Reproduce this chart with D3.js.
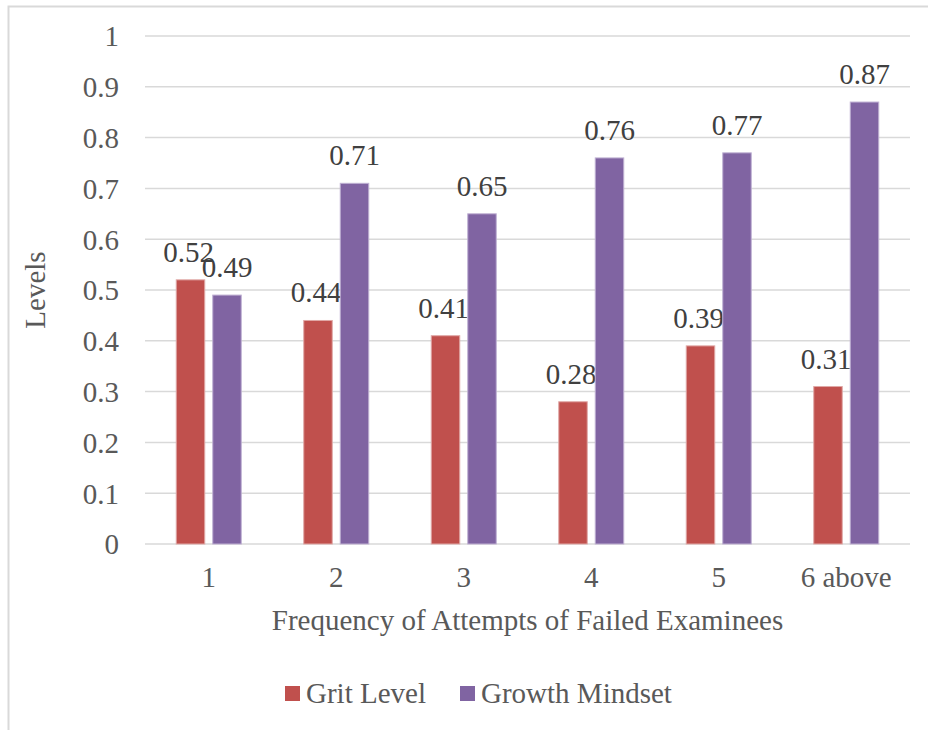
<!DOCTYPE html>
<html>
<head>
<meta charset="utf-8">
<script src="https://cdn.jsdelivr.net/npm/d3@7"></script>
</head>
<body style="margin:0;background:#fff">
<svg id="chart" width="928" height="730" style="display:block"></svg>
<script>
// Categories and series
const categories = ["1", "2", "3", "4", "5", "6 above"];
const gritLevel = [0.52, 0.44, 0.41, 0.28, 0.39, 0.31];
const growthMindset = [0.49, 0.71, 0.65, 0.76, 0.77, 0.87];
const yTicks = [0, 0.1, 0.2, 0.3, 0.4, 0.5, 0.6, 0.7, 0.8, 0.9, 1];
const seriesNames = ["Grit Level", "Growth Mindset"];
const seriesColors = ["#C0504D", "#8064A2"];
const seriesStrokes = ["#e0a8a6", "#bfb0d2"];

const series = [gritLevel, growthMindset];

const svg = d3.select("#chart");
const fontSize = 29;
const serif = '"Liberation Serif"';
const textColor = "#595959";

// Apply the chart's serif typeface to a text selection
function styleText(sel, color) {
  sel.style("font-family", serif)
    .style("font-size", fontSize + "px")
    .style("fill", color || textColor);
}

// Outer chart border
svg.append("rect")
  .attr("x", 8.5).attr("y", 6.5)
  .attr("width", 940).attr("height", 740)
  .attr("fill", "none")
  .attr("stroke", "#d9d9d9")
  .attr("stroke-width", 2);

const plot = { left: 145, right: 910, top: 36, bottom: 544 };

const x = d3.scaleBand()
  .domain(categories)
  .range([plot.left, plot.right]);

const y = d3.scaleLinear()
  .domain([0, 1])
  .range([plot.bottom, plot.top]);

const barW = 28.5;
const barGap = 8;

// Gridlines
svg.append("g")
  .selectAll("line")
  .data(yTicks)
  .join("line")
  .attr("x1", plot.left).attr("x2", plot.right)
  .attr("y1", d => y(d)).attr("y2", d => y(d))
  .attr("stroke", "#d9d9d9")
  .attr("stroke-width", 1.5);

// Y axis labels
const yAxis = d3.axisLeft(y).tickValues(yTicks).tickSize(0).tickPadding(26)
  .tickFormat(d => d3.format("")(+d.toFixed(1)));
const yG = svg.append("g").attr("transform", `translate(${plot.left},0)`).call(yAxis);
yG.select(".domain").remove();
yG.selectAll("text").attr("dy", "0.34em").call(styleText);

// X axis labels
const xAxis = d3.axisBottom(x).tickSize(0).tickPadding(0);
const xG = svg.append("g").attr("transform", `translate(0,${plot.bottom})`).call(xAxis);
xG.select(".domain").remove();
xG.selectAll("text").attr("y", 43).attr("dy", 0).call(styleText);

// Bars and value labels
series.forEach((vals, si) => {
  const offset = (si === 0) ? -(barGap / 2 + barW) : barGap / 2;
  const g = svg.append("g");
  g.selectAll("rect")
    .data(vals)
    .join("rect")
    .attr("x", (d, i) => x(categories[i]) + x.bandwidth() / 2 + offset)
    .attr("y", d => y(d))
    .attr("width", barW)
    .attr("height", d => y(0) - y(d))
    .attr("fill", seriesColors[si])
    .attr("stroke", seriesStrokes[si])
    .attr("stroke-width", 1);
  g.selectAll("text")
    .data(vals)
    .join("text")
    .attr("x", (d, i) => x(categories[i]) + x.bandwidth() / 2 + offset + barW / 2 - (si === 0 ? 2 : 0))
    .attr("y", d => y(d) - 18)
    .attr("text-anchor", "middle")
    .text(d => d.toFixed(2))
    .call(styleText, "#404040");
});

// Axis titles
svg.append("text")
  .attr("x", (plot.left + plot.right) / 2)
  .attr("y", 630)
  .attr("text-anchor", "middle")
  .text("Frequency of Attempts of Failed Examinees")
  .call(styleText);

svg.append("text")
  .attr("transform", `translate(45,${(plot.top + plot.bottom) / 2}) rotate(-90)`)
  .attr("text-anchor", "middle")
  .text("Levels")
  .call(styleText);

// Legend
const legendItems = [
  { name: seriesNames[0], color: seriesColors[0], x: 285 },
  { name: seriesNames[1], color: seriesColors[1], x: 460 }
];
const lg = svg.append("g");
legendItems.forEach(it => {
  lg.append("rect")
    .attr("x", it.x).attr("y", 686)
    .attr("width", 15).attr("height", 15)
    .attr("fill", it.color);
  lg.append("text")
    .attr("x", it.x + 21).attr("y", 703)
    .text(it.name)
    .call(styleText);
});
</script>
</body>
</html>
